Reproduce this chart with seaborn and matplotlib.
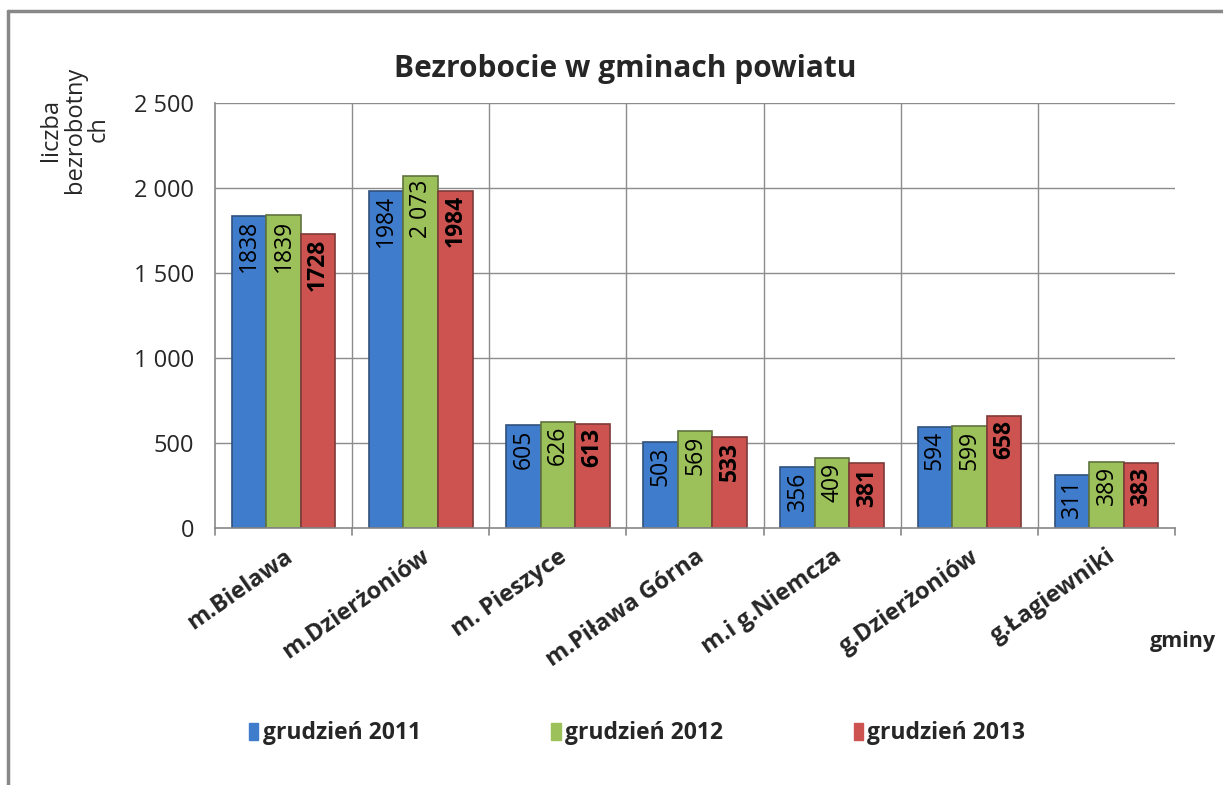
import pandas as pd
import numpy as np
import matplotlib.pyplot as plt
import seaborn as sns
from matplotlib.lines import Line2D

gminy = ['m.Bielawa', 'm.Dzierżoniów', 'm. Pieszyce', 'm.Piława Górna',
         'm.i g.Niemcza', 'g.Dzierżoniów', 'g.Łagiewniki']
okresy = ['grudzień 2011', 'grudzień 2012', 'grudzień 2013']
v2011 = [1838, 1984, 605, 503, 356, 594, 311]
v2012 = [1839, 2073, 626, 569, 409, 599, 389]
v2013 = [1728, 1984, 613, 533, 381, 658, 383]
kolory = ['#3F7CCB', '#9CC05A', '#CD5350']
yticks = [0, 500, 1000, 1500, 2000, 2500]
ytick_labels = ['0', '500', '1 000', '1 500', '2 000', '2 500']

df = pd.DataFrame({
    'gmina': gminy * 3,
    'okres': [okresy[0]] * 7 + [okresy[1]] * 7 + [okresy[2]] * 7,
    'liczba': v2011 + v2012 + v2013,
})

sns.set_style('white')
plt.rcParams['font.family'] = ['Open Sans', 'DejaVu Sans']

fig = plt.figure(figsize=(12.23, 7.85), dpi=100)
ax = fig.add_axes([0.1758, 0.3274, 0.9608 - 0.1758, 0.8688 - 0.3274])

sns.barplot(data=df, x='gmina', y='liczba', hue='okres', palette=kolory,
            width=0.755, gap=0, saturation=1, ax=ax, legend=False,
            edgecolor='none')

# darker edges, to suggest the bevel of the original bars
for i, cont in enumerate(ax.containers):
    bold = (i == 2)
    for bar, val in zip(cont, [v2011, v2012, v2013][i]):
        bar.set_edgecolor(sns.dark_palette(kolory[i], n_colors=3)[1])
        bar.set_linewidth(1.2)
        lab = f'{val:,}'.replace(',', ' ') if val == 2073 else str(val)
        ax.text(bar.get_x() + bar.get_width() / 2, val - 25, lab,
                rotation=90, ha='center', va='top', fontsize=16.5,
                fontweight='bold' if bold else 'normal', color='black')

ax.set_xlim(-0.5, 6.5)
ax.set_ylim(0, 2500)
ax.set_yticks(yticks)
ax.set_yticklabels(ytick_labels, fontsize=17)
ax.set_xticks(np.arange(7))
ax.set_xticklabels(gminy, rotation=35, ha='right', rotation_mode='anchor',
                   fontsize=17, fontweight='bold')
ax.tick_params(axis='x', length=0, pad=12)
ax.tick_params(axis='y', length=7, color='#888888', width=1.2, pad=8)

for y in yticks[1:]:
    ax.axhline(y, color='#8c8c8c', lw=1, zorder=0)
for x in np.arange(0.5, 6.5, 1):
    ax.axvline(x, color='#8c8c8c', lw=1, zorder=0)
for x in np.arange(-0.5, 7.0, 1):
    ax.plot([x, x], [0, -40], color='#888888', lw=1.2, clip_on=False)

for s in ['top', 'right']:
    ax.spines[s].set_visible(False)
for s in ['left', 'bottom']:
    ax.spines[s].set_color('#888888')
    ax.spines[s].set_linewidth(1.2)

ax.set_xlabel('')
ax.set_ylabel('')

fig.text(0.511, 0.912, 'Bezrobocie w gminach powiatu', ha='center', va='center',
         fontsize=21.5, fontweight='bold')
fig.text(0.061, 0.835, 'liczba\nbezrobotny\nch', ha='center', va='center',
         rotation=90, fontsize=17, linespacing=1.0)
fig.text(0.994, 0.183, 'gminy', ha='right', va='center', fontsize=15.5,
         fontweight='bold')

handles = [plt.Rectangle((0, 0), 1, 1, color=c) for c in kolory]
fig.legend(handles, okresy, loc='center', bbox_to_anchor=(0.521, 0.066), ncol=3,
           frameon=False, prop={'weight': 'bold', 'size': 16.5},
           handlelength=0.4, handleheight=0.75, handletextpad=0.2,
           columnspacing=5.7)

# outer frame: only top and left edges are visible
fig.add_artist(Line2D([8 / 1223, 1], [1 - 11 / 785, 1 - 11 / 785],
                      transform=fig.transFigure, color='#888888', lw=2.5))
fig.add_artist(Line2D([8 / 1223, 8 / 1223], [0, 1 - 11 / 785],
                      transform=fig.transFigure, color='#888888', lw=2.5))

fig.savefig('out.png', dpi=100)
